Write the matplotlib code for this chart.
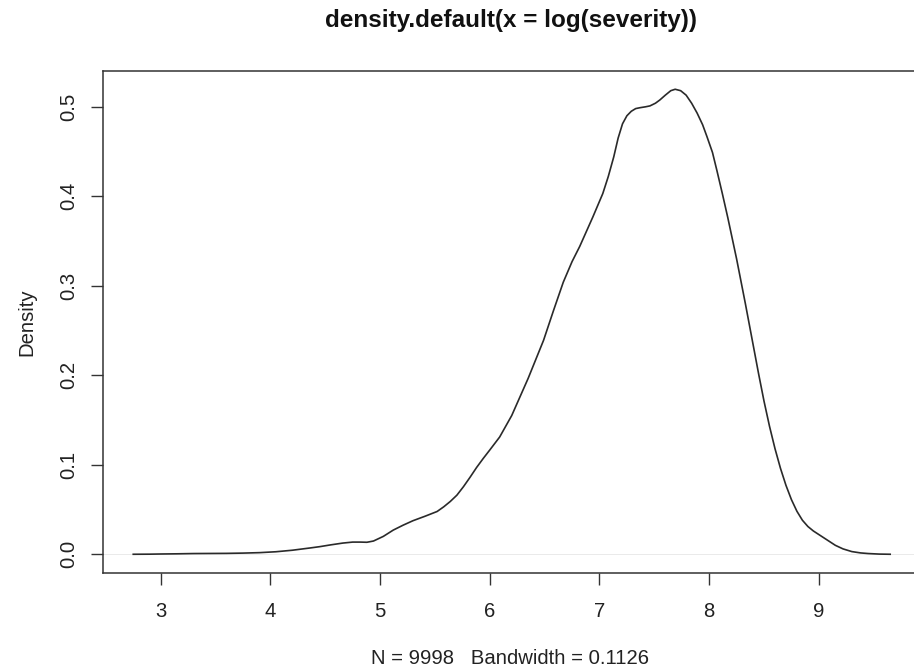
import matplotlib
matplotlib.use("Agg")
import matplotlib.pyplot as plt

# ---- data: kernel density of log(severity) ----
x_vals = [2.75, 2.9, 3.0, 3.15, 3.3, 3.45, 3.6, 3.75, 3.9, 4.05, 4.2, 4.27,
          4.36, 4.45, 4.55, 4.66, 4.75, 4.82, 4.88, 4.94, 5.03, 5.12, 5.21,
          5.30, 5.41, 5.52, 5.58, 5.64, 5.70, 5.76, 5.82, 5.88, 5.94, 6.00,
          6.09, 6.20, 6.35, 6.49, 6.58, 6.67, 6.75, 6.82, 6.94, 7.03, 7.08,
          7.13, 7.17, 7.21, 7.25, 7.29, 7.33, 7.37, 7.42, 7.46, 7.51, 7.55,
          7.60, 7.65, 7.69, 7.74, 7.79, 7.84, 7.89, 7.94, 7.98, 8.03, 8.07,
          8.12, 8.17, 8.21, 8.25, 8.29, 8.33, 8.37, 8.41, 8.45, 8.50, 8.55,
          8.60, 8.65, 8.70, 8.75, 8.80, 8.85, 8.90, 8.95, 9.00, 9.05, 9.10,
          9.15, 9.22, 9.30, 9.38, 9.45, 9.55, 9.65]
density = [0.0, 0.0001, 0.0003, 0.0005, 0.0008, 0.0009, 0.001, 0.0013,
           0.0018, 0.0028, 0.0045, 0.0056, 0.007, 0.0085, 0.0105, 0.0125,
           0.0136, 0.0136, 0.0134, 0.0148, 0.02, 0.027, 0.0325, 0.0375,
           0.0425, 0.0478, 0.053, 0.059, 0.066, 0.0755, 0.086, 0.097, 0.107,
           0.1165, 0.131, 0.155, 0.1966, 0.239, 0.272, 0.304, 0.327, 0.344,
           0.377, 0.403, 0.422, 0.444, 0.465, 0.481, 0.490, 0.495, 0.498,
           0.499, 0.500, 0.501, 0.504, 0.5076, 0.513, 0.518, 0.5196, 0.518,
           0.513, 0.504, 0.493, 0.480, 0.4666, 0.449, 0.429, 0.403, 0.376,
           0.353, 0.330, 0.305, 0.280, 0.254, 0.228, 0.202, 0.171, 0.143,
           0.118, 0.096, 0.077, 0.061, 0.048, 0.038, 0.031, 0.026, 0.022,
           0.018, 0.014, 0.010, 0.006, 0.003, 0.0015, 0.0008, 0.0002, 0.0]

x_ticks = [3, 4, 5, 6, 7, 8, 9]
y_ticks = [0.0, 0.1, 0.2, 0.3, 0.4, 0.5]
y_tick_labels = ["0.0", "0.1", "0.2", "0.3", "0.4", "0.5"]

title_text = "density.default(x = log(severity))"
x_label = "N = 9998   Bandwidth = 0.1126"
y_label = "Density"

plt.rcParams["font.family"] = ["Liberation Sans", "DejaVu Sans"]

fig = plt.figure(figsize=(9.14, 6.69), dpi=100)
ax = fig.add_axes([103.3 / 914, 96.3 / 669, 817.6 / 914, 501.7 / 669])

# faint zero line, like R's plot.density
ax.axhline(0, color="#e6e6e6", lw=0.6, zorder=1)
ax.plot(x_vals, density, color="#2a2a2a", lw=1.2, zorder=2)

ax.set_xlim(2.477, 9.93)
ax.set_ylim(-0.0206, 0.540)

ax.set_xticks(x_ticks)
ax.set_yticks(y_ticks)
ax.set_yticklabels(y_tick_labels, rotation=90, va="center")
ax.tick_params(axis="both", direction="out", length=8.8, width=1.0,
               color="#333333", labelsize=14.6, labelcolor="#222222")
ax.tick_params(axis="x", pad=12)
ax.tick_params(axis="y", pad=9)

for sp in ax.spines.values():
    sp.set_linewidth(1.1)
    sp.set_color("#333333")

fig.text(511 / 914, 1 - 20.7 / 669, title_text,
         ha="center", va="center", fontsize=17.5, fontweight="bold",
         color="#111111")
fig.text(510 / 914, 1 - 659 / 669, x_label, ha="center", va="center",
         fontsize=14.6, color="#222222")
fig.text(27 / 914, 1 - 322 / 669, y_label, ha="center", va="center",
         rotation=90, fontsize=14.6, color="#222222")

fig.savefig("out.png", dpi=100)
